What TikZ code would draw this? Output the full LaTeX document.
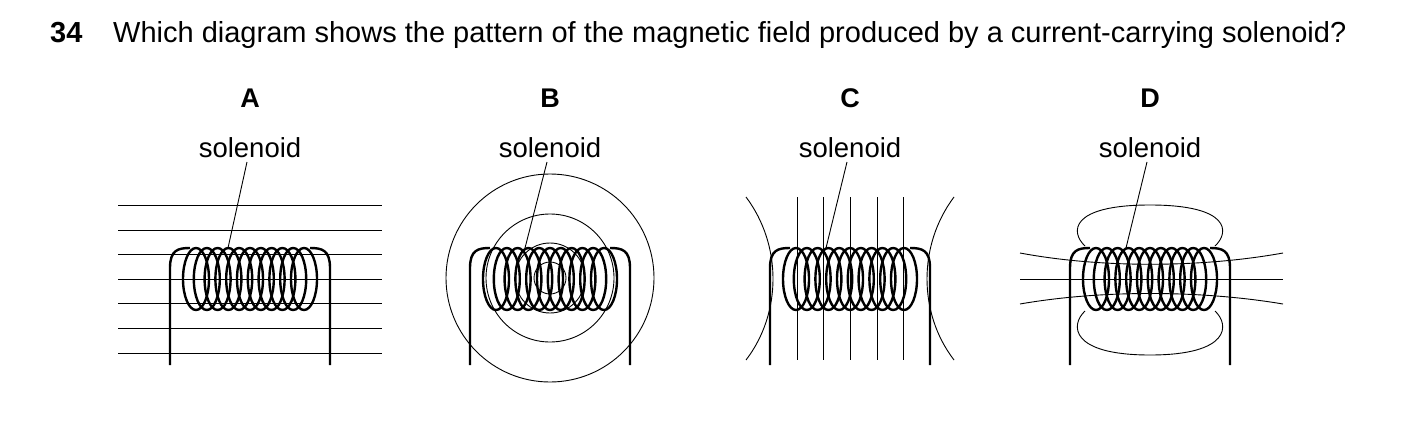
\documentclass[tikz,border=0pt]{standalone}
\usepackage{fontspec}
\setmainfont{Liberation Sans}
\begin{document}
\begin{tikzpicture}[x=1pt,y=-1pt,
 coil/.style={line width=2.4pt},
 field/.style={line width=0.9pt},
 lead/.style={line width=0.9pt},
 lbl/.style={font=\fontsize{27.5pt}{30pt}\selectfont,inner sep=0pt},
 let/.style={font=\fontsize{27pt}{30pt}\selectfont\bfseries,inner sep=0pt}]
\useasboundingbox (0,0) rectangle (1403,434);
\newcommand{\mycoil}[1]{%
 \draw[coil] (#1-80,365) -- (#1-80,268) .. controls (#1-80,250) and (#1-72,248) .. (#1-60,248);
 \draw[coil] (#1+80,365) -- (#1+80,268) .. controls (#1+80,250) and (#1+72,248) .. (#1+60,248);
 \foreach \i in {0,...,10}{\draw[coil] (#1-54+\i*10.8,279) ellipse [x radius=13,y radius=31];}
}
\node[anchor=base west,font=\fontsize{29pt}{32pt}\selectfont\bfseries,inner sep=0pt] (num) at (50,42) {34};
\node[anchor=base west,font=\fontsize{29pt}{32pt}\selectfont,inner sep=0pt] (q) at (113,42) {Which diagram shows the pattern of the magnetic field produced by a current-carrying solenoid?};
% A
\node[let] (la) at (250,98) {A};
\node[lbl] (sa) at (250,148) {solenoid};
\foreach \y in {205,230,254,279,303,328,353}{\draw[field] (118,\y) -- (382,\y);}
\mycoil{250}
\coordinate (ta) at (228,248);
\draw[lead] (247,162) -- (ta);
% B
\node[let] (lb) at (550,98) {B};
\node[lbl] (sb) at (550,148) {solenoid};
\foreach \r in {104,64,35,16}{\draw[field] (550,278) circle (\r);}
\mycoil{550}
\coordinate (tb) at (525,248);
\draw[lead] (547,162) -- (tb);
% C
\node[let] (lc) at (850,98) {C};
\node[lbl] (sc) at (850,148) {solenoid};
\foreach \x in {797,823,850,877,903}{\draw[field] (\x,197) -- (\x,360);}
\draw[field] (746,197) .. controls (782,245) and (782,313) .. (746,360);
\draw[field] (954,197) .. controls (918,245) and (918,313) .. (954,360);
\mycoil{850}
\coordinate (tc) at (826,248);
\draw[lead] (847,162) -- (tc);
% D
\node[let] (ld) at (1150,98) {D};
\node[lbl] (sd) at (1150,148) {solenoid};
\draw[field] (1085,246) .. controls (1070,232) and (1070,205) .. (1150,205) .. controls (1230,205) and (1230,232) .. (1215,246);
\draw[field] (1085,311) .. controls (1070,325) and (1070,355) .. (1150,355) .. controls (1230,355) and (1230,325) .. (1215,311);
\draw[field] (1020,279) -- (1283,279);
\draw[field] (1020,253) .. controls (1100,268) and (1200,268) .. (1283,253);
\draw[field] (1020,304) .. controls (1100,290) and (1200,290) .. (1283,304);
\mycoil{1150}
\coordinate (td) at (1126,248);
\draw[lead] (1147,162) -- (td);
\end{tikzpicture}
\end{document}
